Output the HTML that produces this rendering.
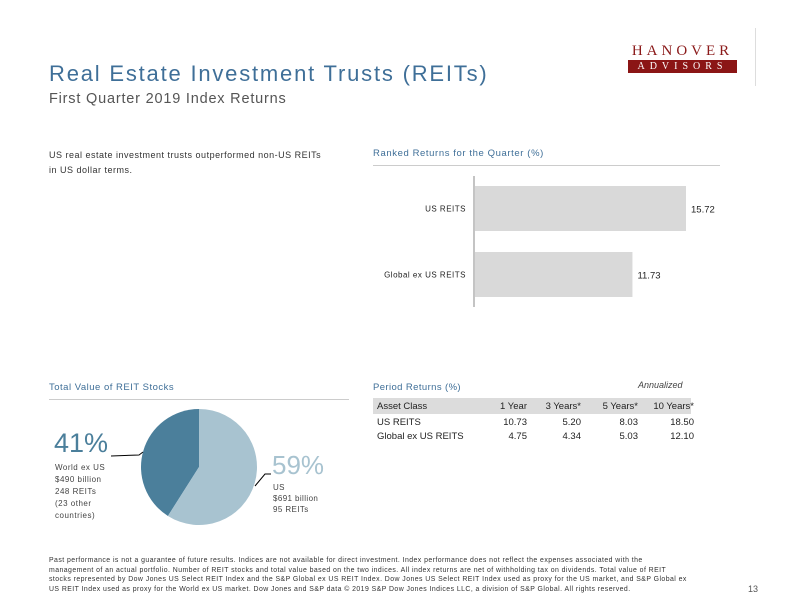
<!DOCTYPE html>
<html><head><meta charset="utf-8"><style>
body{margin:0;background:#fff;}
#page{position:relative;width:792px;height:612px;overflow:hidden;font-family:"Liberation Sans",sans-serif;background:#fff;}
.t{position:absolute;white-space:nowrap;}
</style></head><body>
<div id="page">
<div class="t" style="left:49px;top:61px;font-size:22px;letter-spacing:1.8px;color:#3f6f98;">Real Estate Investment Trusts (REITs)</div>
<div class="t" style="left:49px;top:91px;font-size:14.5px;letter-spacing:0.8px;color:#555;">First Quarter 2019 Index Returns</div>
<div style="position:absolute;left:628px;top:43px;width:109px;height:31px;">
 <div class="t" style="left:0;top:0;width:109px;text-align:center;font-family:'Liberation Serif',serif;font-size:15px;letter-spacing:4px;color:#8b1a1a;">HANOVER</div>
 <div class="t" style="left:0;top:17px;width:109px;height:13px;background:#8b1515;color:#fff;text-align:center;font-family:'Liberation Serif',serif;font-size:10px;line-height:13px;letter-spacing:5px;">ADVISORS</div>
</div>
<div style="position:absolute;left:755px;top:28px;width:1px;height:58px;background:#ddd;"></div>
<div class="t" style="left:49px;top:148px;font-size:9px;letter-spacing:0.5px;line-height:15px;color:#333;">US real estate investment trusts outperformed non-US REITs<br>in US dollar terms.</div>
<div class="t" style="left:373px;top:148px;font-size:9.5px;letter-spacing:0.6px;color:#3f6f98;">Ranked Returns for the Quarter (%)</div>
<div style="position:absolute;left:373px;top:165px;width:347px;height:1px;background:#ccc;"></div>
<svg id="bar" style="position:absolute;left:0;top:0;" width="792" height="612"></svg>
<div class="t" style="left:49px;top:382px;font-size:9.5px;letter-spacing:0.5px;color:#3f6f98;">Total Value of REIT Stocks</div>
<div style="position:absolute;left:49px;top:399px;width:300px;height:1px;background:#ccc;"></div>
<svg id="pie" style="position:absolute;left:0;top:0;" width="792" height="612"></svg>
<div class="t" style="left:54px;top:428px;font-size:27px;color:#4b7f9b;">41%</div>
<div class="t" style="left:55px;top:462px;font-size:8px;letter-spacing:0.5px;line-height:12px;color:#444;">World ex US<br>$490 billion<br>248 REITs<br>(23 other<br>countries)</div>
<div class="t" style="left:272px;top:450px;font-size:26px;color:#a8c3d0;">59%</div>
<div class="t" style="left:273px;top:482px;font-size:8px;letter-spacing:0.4px;line-height:11px;color:#444;">US<br>$691 billion<br>95 REITs</div>
<div class="t" style="left:373px;top:382px;font-size:9.5px;letter-spacing:0.4px;color:#3f6f98;">Period Returns (%)</div>
<div class="t" style="left:638px;top:380px;font-size:9px;font-style:italic;color:#444;">Annualized</div>
<div style="position:absolute;left:373px;top:398px;width:318px;height:16px;background:#dcdcdc;"></div>
<table style="position:absolute;left:373px;top:398px;border-collapse:collapse;font-size:9.5px;color:#222;">
<tr style="height:16px"><td style="width:98px;padding-left:4px">Asset Class</td><td style="width:50px;text-align:right">1 Year</td><td style="width:52px;text-align:right">3 Years*</td><td style="width:55px;text-align:right">5 Years*</td><td style="width:54px;text-align:right">10 Years*</td></tr>
<tr style="height:16px"><td style="padding-left:4px">US REITS</td><td style="text-align:right">10.73</td><td style="text-align:right">5.20</td><td style="text-align:right">8.03</td><td style="text-align:right">18.50</td></tr>
<tr style="height:13px"><td style="padding-left:4px">Global ex US REITS</td><td style="text-align:right">4.75</td><td style="text-align:right">4.34</td><td style="text-align:right">5.03</td><td style="text-align:right">12.10</td></tr>
</table>
<div class="t" style="left:49px;top:556px;font-size:6.9px;letter-spacing:0.45px;line-height:9.5px;color:#333;">Past performance is not a guarantee of future results. Indices are not available for direct investment. Index performance does not reflect the expenses associated with the<br>management of an actual portfolio. Number of REIT stocks and total value based on the two indices. All index returns are net of withholding tax on dividends. Total value of REIT<br>stocks represented by Dow Jones US Select REIT Index and the S&amp;P Global ex US REIT Index. Dow Jones US Select REIT Index used as proxy for the US market, and S&amp;P Global ex<br>US REIT Index used as proxy for the World ex US market. Dow Jones and S&amp;P data © 2019 S&amp;P Dow Jones Indices LLC, a division of S&amp;P Global. All rights reserved.</div>
<div class="t" style="left:748px;top:584px;font-size:9px;color:#555;">13</div>
</div>
<script>
const categories=["US REITS","Global ex US REITS"];
const returns=[15.72,11.73];
const pieLabels=["World ex US","US"];
const pieValues=[41,59];
const NS="http://www.w3.org/2000/svg";
function mk(t,a){const e=document.createElementNS(NS,t);for(const k in a)e.setAttribute(k,a[k]);return e;}
const bar=document.getElementById('bar');
const x0=475,scale=211/15.72,y0=186,band=66,bh=45;
const xs=v=>x0+v*scale;
const axis=mk('line',{x1:474,x2:474,y1:176,y2:307,stroke:'#888','stroke-width':1});


bar.appendChild(axis);
categories.forEach((c,i)=>{
 const y=y0+i*band;
 const r=mk('rect',{x:x0,y:y,width:xs(returns[i])-x0,height:bh,fill:'#d9d9d9'});
 
 
 bar.appendChild(r);
 const l=mk('text',{x:466,y:y+bh/2+3,'text-anchor':'end','font-size':8,'letter-spacing':0.5,fill:'#222','font-family':'Liberation Sans'});
 l.textContent=c;
 
 
 bar.appendChild(l);
 const v=mk('text',{x:xs(returns[i])+5,y:y+bh/2+4,'font-size':9.5,fill:'#222','font-family':'Liberation Sans'});
 v.textContent=returns[i].toFixed(2);
 
 
 bar.appendChild(v);
});
const pie=document.getElementById('pie');
const cx=199,cy=467,R=58,cols=['#4b7f9b','#a8c3d0'];
const tot=pieValues.reduce((a,b)=>a+b,0);
pieValues.forEach((v,i)=>{
 const sweep=v/tot*2*Math.PI;
 let s,e;
 if(i===0){s=-sweep;e=0;}else{s=0;e=2*Math.PI-pieValues[0]/tot*2*Math.PI;}
 const p=t=>[cx+R*Math.sin(t),cy-R*Math.cos(t)];
 const [x1,y1]=p(s),[x2,y2]=p(e);
 const large=(e-s)>Math.PI?1:0;
 const path=mk('path',{d:`M${cx},${cy}L${x1},${y1}A${R},${R} 0 ${large} 1 ${x2},${y2}Z`,fill:cols[i]});
 
 
 pie.appendChild(path);
});
const l1=mk('polyline',{points:'111,456 139,455 143,452',fill:'none',stroke:'#000','stroke-width':1});


pie.appendChild(l1);
const l2=mk('polyline',{points:'255,486 265,474 271,474',fill:'none',stroke:'#000','stroke-width':1});


pie.appendChild(l2);
</script>
</body></html>
